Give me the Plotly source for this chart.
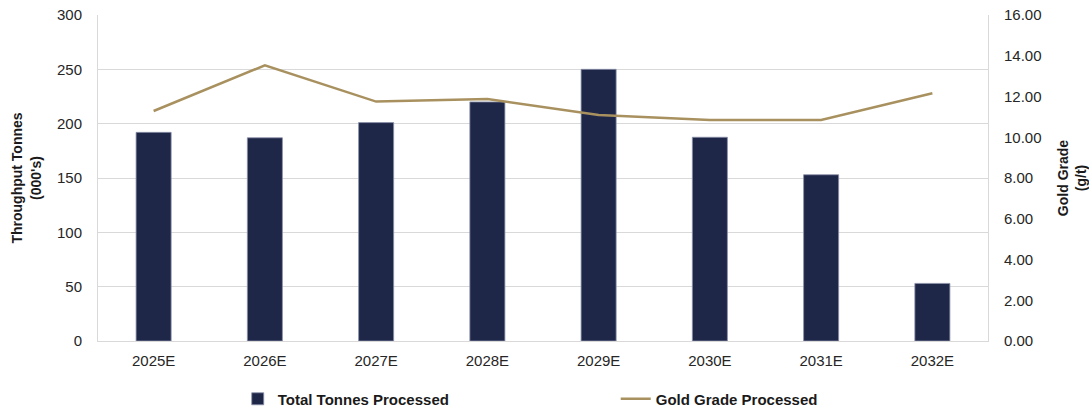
import plotly.graph_objects as go

years = ["2025E", "2026E", "2027E", "2028E", "2029E", "2030E", "2031E", "2032E"]
tonnes = [192, 187, 201, 220, 250, 187.5, 153, 53]
grade = [11.29, 13.53, 11.75, 11.88, 11.09, 10.85, 10.85, 12.16]

FONT = "Liberation Sans, Arial, sans-serif"
GRID = "#d9d9d9"

fig = go.Figure()
fig.add_trace(go.Bar(
    x=years, y=tonnes, name="Total Tonnes Processed",
    marker=dict(color="#1F2749", line=dict(color="#8a90a8", width=0.8)),
    width=0.315, yaxis="y",
))
fig.add_trace(go.Scatter(
    x=years, y=grade, name="Gold Grade Processed", mode="lines",
    line=dict(color="#A8915F", width=2.5), yaxis="y2",
))

fig.update_layout(
    width=1089, height=411,
    margin=dict(l=98, r=101, t=15, b=70, autoexpand=False),
    paper_bgcolor="white", plot_bgcolor="white",
    font=dict(family=FONT, size=15, color="#262626"),
    xaxis=dict(
        showline=True, linecolor=GRID, linewidth=1, ticks="",
        tickfont=dict(size=15), automargin=False, ticklabelstandoff=6,
    ),
    yaxis=dict(
        range=[0, 300], dtick=50, showgrid=True, gridcolor=GRID, gridwidth=1,
        showline=True, linecolor=GRID, linewidth=1, zeroline=False,
        ticks="", ticklabelstandoff=12, automargin=False,
        title=dict(text="<b>Throughput Tonnes<br>(000's)</b>", font=dict(size=14, color="#1a1a1a"), standoff=12),
    ),
    yaxis2=dict(
        range=[0, 16], dtick=2, tickformat=".2f", overlaying="y", side="right",
        showgrid=False, showline=True, linecolor=GRID, linewidth=1, zeroline=False,
        ticks="", ticklabelstandoff=12, automargin=False,
        title=dict(text="<b>Gold Grade<br>(g/t)</b>", font=dict(size=14, color="#1a1a1a"), standoff=19),
    ),
    legend=dict(
        orientation="h", x=0.157, xanchor="left", y=-0.178, yanchor="middle",
        font=dict(size=15, color="#1a1a1a", family=FONT, weight="bold"),
        entrywidth=333, entrywidthmode="pixels",
        bgcolor="rgba(0,0,0,0)",
    ),
    showlegend=True,
)

fig.write_html("out.html")
